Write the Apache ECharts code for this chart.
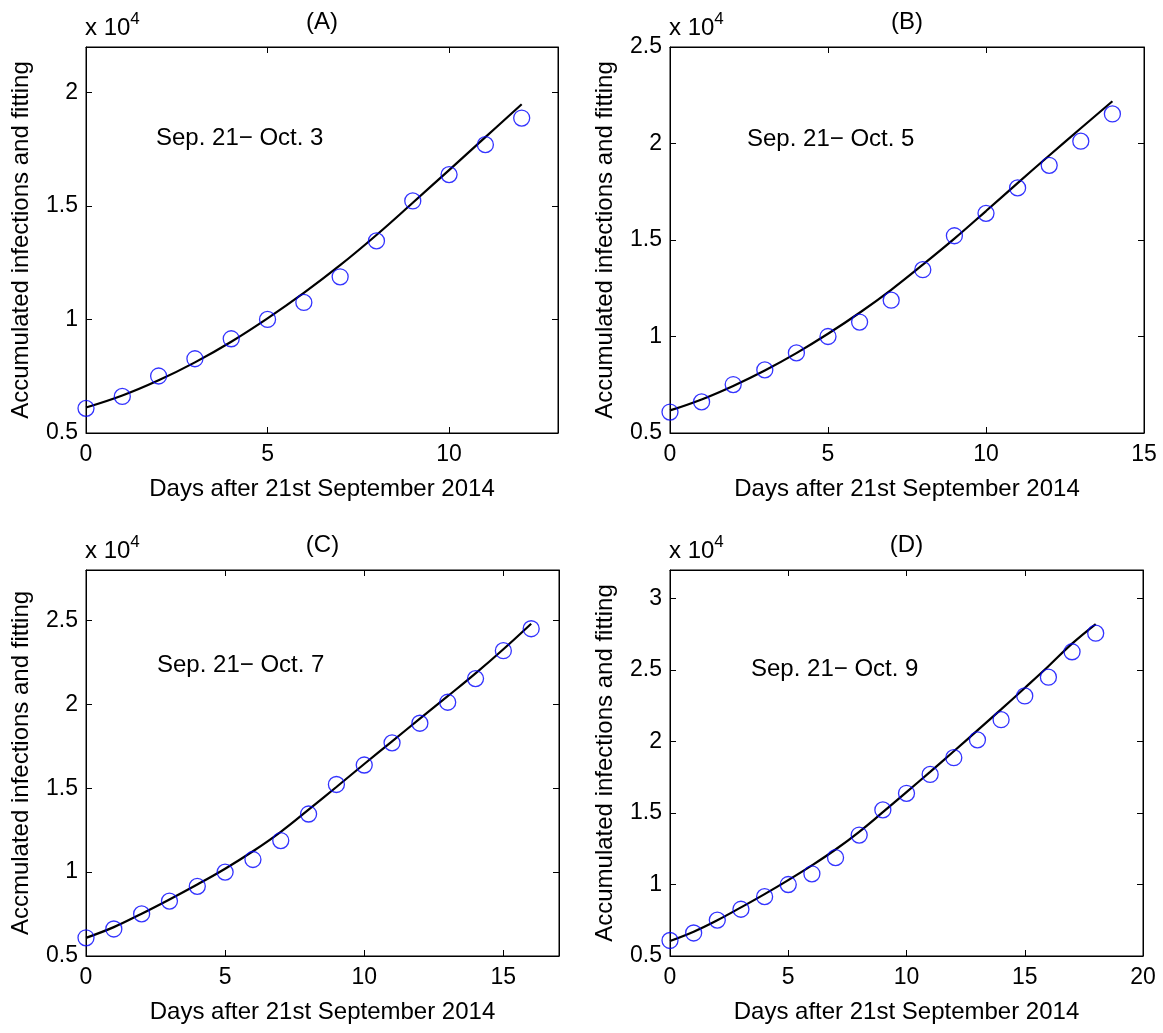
<!DOCTYPE html>
<html>
<head>
<meta charset="utf-8">
<script src="https://cdn.jsdelivr.net/npm/echarts@6/dist/echarts.min.js"></script>
<style>
html,body{margin:0;padding:0;background:#fff;}
#chart{width:1163px;height:1033px;}
</style>
</head>
<body>
<div id="chart"></div>
<script>
// Observed accumulated infections (days 0..18 after 21 Sep 2014)
var observed = [6085, 6610, 7510, 8270, 9150, 10000, 10750, 11880, 13460, 15220, 16380, 17700, 18870, 20120, 21530, 23190, 24500, 26280, 27580];

// Fitted curves per panel (one value per day)
var fitA = [6120, 6650, 7320, 8110, 9020, 10050, 11170, 12390, 13720, 15140, 16580, 18030, 19480];
var fitB = [6170, 6740, 7440, 8240, 9140, 10140, 11230, 12420, 13720, 15070, 16500, 17950, 19380, 20790, 22190];
var fitC = [6080, 6720, 7520, 8370, 9260, 10200, 11240, 12400, 13720, 15070, 16440, 17790, 19140, 20480, 21840, 23280, 24800];
var fitD = [6050, 6700, 7500, 8400, 9330, 10310, 11340, 12450, 13690, 15060, 16460, 17880, 19320, 20780, 22250, 23750, 25270, 26850, 28220];

var panelTitles = ['(A)', '(B)', '(C)', '(D)'];
var periodLabels = ['Sep. 21\u2212 Oct. 3', 'Sep. 21\u2212 Oct. 5', 'Sep. 21\u2212 Oct. 7', 'Sep. 21\u2212 Oct. 9'];
var xMax = [13, 15, 17, 20];
var yMax = [22000, 25000, 28000, 32000];
var yMin = 5000;
var yInterval = 5000;
var xInterval = 5;
var xTitle = 'Days after 21st September 2014';
var yTitles = ['Accumulated infections and fitting', 'Accumulated infections and fitting', 'Accmulated infections and fitting', 'Accumulated infections and fitting'];
var fits = [fitA, fitB, fitC, fitD];

var FONT = '"Liberation Sans", Arial, Helvetica, sans-serif';
var grids = [
  {left: 86, top: 47, width: 472, height: 386},
  {left: 670, top: 47, width: 474, height: 386},
  {left: 86, top: 570, width: 473, height: 386},
  {left: 670, top: 570, width: 473, height: 386}
];
var annotOffset = [[70, 91], [77, 92], [71, 95], [81, 99]];

var chart = echarts.init(document.getElementById('chart'), null, {renderer: 'canvas'});

var option = {
  backgroundColor: '#ffffff',
  animation: false,
  textStyle: {fontFamily: FONT},
  grid: [], xAxis: [], yAxis: [], series: [], graphic: []
};

function pairs(arr, n) {
  var out = [];
  for (var i = 0; i < n; i++) out.push([i, arr[i]]);
  return out;
}

for (var p = 0; p < 4; p++) {
  var g = grids[p];
  option.grid.push({left: g.left, top: g.top, width: g.width, height: g.height, show: true, borderColor: '#000', borderWidth: 1, containLabel: false});
  var axisLineStyle = {color: '#000', width: 1};
  option.xAxis.push({
    type: 'value', gridIndex: p, min: 0, max: xMax[p], interval: xInterval, position: 'bottom',
    name: xTitle, nameLocation: 'middle', nameGap: 44,
    nameTextStyle: {fontSize: 24, color: '#000', fontFamily: FONT},
    axisLine: {show: true, onZero: false, lineStyle: axisLineStyle},
    axisTick: {show: true, inside: true, length: 6, lineStyle: axisLineStyle},
    axisLabel: {show: true, margin: 10, fontSize: 23, color: '#000', fontFamily: FONT, showMaxLabel: (xMax[p] % xInterval === 0), showMinLabel: true},
    splitLine: {show: false}
  });
  option.xAxis.push({
    type: 'value', gridIndex: p, min: 0, max: xMax[p], interval: xInterval, position: 'top',
    axisLine: {show: true, onZero: false, lineStyle: axisLineStyle},
    axisTick: {show: true, inside: true, length: 6, lineStyle: axisLineStyle},
    axisLabel: {show: false}, splitLine: {show: false}
  });
  option.yAxis.push({
    type: 'value', gridIndex: p, min: yMin, max: yMax[p], interval: yInterval, position: 'left',
    name: yTitles[p], nameLocation: 'middle', nameGap: 53, nameRotate: 90,
    nameTextStyle: {fontSize: 24, color: '#000', fontFamily: FONT},
    axisLine: {show: true, onZero: false, lineStyle: axisLineStyle},
    axisTick: {show: true, inside: true, length: 6, lineStyle: axisLineStyle},
    axisLabel: {show: true, margin: 8, fontSize: 23, color: '#000', fontFamily: FONT,
      showMaxLabel: (yMax[p] % yInterval === 0), showMinLabel: true,
      formatter: function (v) { return String(Math.round(v / 1000) / 10); }},
    splitLine: {show: false}
  });
  option.yAxis.push({
    type: 'value', gridIndex: p, min: yMin, max: yMax[p], interval: yInterval, position: 'right',
    axisLine: {show: true, onZero: false, lineStyle: axisLineStyle},
    axisTick: {show: true, inside: true, length: 6, lineStyle: axisLineStyle},
    axisLabel: {show: false}, splitLine: {show: false}
  });

  var n = fits[p].length;
  option.series.push({
    type: 'line', xAxisIndex: 2 * p, yAxisIndex: 2 * p,
    data: pairs(fits[p], n), smooth: 0.4, showSymbol: false, symbol: 'none',
    lineStyle: {color: '#000', width: 2.2}, z: 3, silent: true
  });
  option.series.push({
    type: 'scatter', xAxisIndex: 2 * p, yAxisIndex: 2 * p,
    data: pairs(observed, n), symbol: 'circle', symbolSize: 16,
    itemStyle: {color: 'rgba(0,0,0,0)', borderColor: '#0000ff', borderWidth: 1.3}, z: 4, silent: true
  });

  option.graphic.push({type: 'text', x: g.left + g.width / 2, y: g.top - 25,
    style: {text: panelTitles[p], fontSize: 24, fill: '#000', fontFamily: FONT, align: 'center', verticalAlign: 'middle'}});
  option.graphic.push({type: 'text', x: g.left - 1, y: g.top - 19,
    style: {text: 'x 10', fontSize: 24, fill: '#000', fontFamily: FONT, align: 'left', verticalAlign: 'middle'}});
  option.graphic.push({type: 'text', x: g.left + 49, y: g.top - 28,
    style: {text: '4', fontSize: 17, fill: '#000', fontFamily: FONT, align: 'center', verticalAlign: 'middle'}});
  option.graphic.push({type: 'text', x: g.left + annotOffset[p][0], y: g.top + annotOffset[p][1],
    style: {text: periodLabels[p], fontSize: 24, fill: '#000', fontFamily: FONT, align: 'left', verticalAlign: 'middle'}});
}
chart.setOption(option);
</script>
</body>
</html>
